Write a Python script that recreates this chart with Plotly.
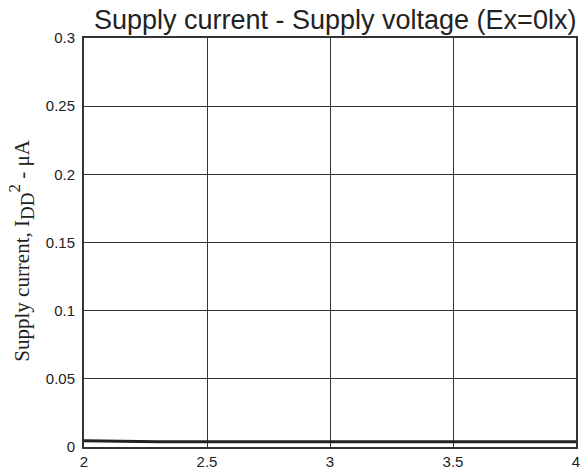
import plotly.graph_objects as go

voltage = [2.0, 2.1, 2.2, 2.3, 2.5, 3.0, 3.5, 4.0]
current = [0.0046, 0.0042, 0.0039, 0.0038, 0.0038, 0.0038, 0.0038, 0.0038]

x_ticks = [2, 2.5, 3, 3.5, 4]
x_labels = ["2", "2.5", "3", "3.5", "4"]
y_ticks = [0, 0.05, 0.1, 0.15, 0.2, 0.25, 0.3]
y_labels = ["0", "0.05", "0.1", "0.15", "0.2", "0.25", "0.3"]

title_text = "Supply current - Supply voltage (Ex=0lx)"
y_title = ("Supply current, I<sub><span style='font-size:19px'>DD</span></sub>"
           "<sup><span style='font-size:17px'>2</span></sup> - μA")

fig = go.Figure()
fig.add_trace(go.Scatter(x=voltage, y=current, mode="lines",
                         line=dict(color="#222222", width=3), showlegend=False))

fig.update_layout(
    width=588, height=475,
    margin=dict(l=84, r=12, t=38, b=28),
    paper_bgcolor="white", plot_bgcolor="white",
    title=dict(text=title_text,
               font=dict(family="Liberation Sans, Arial", size=27, color="#222222"),
               x=0.57, xanchor="center", y=0.958, yanchor="middle"),
    font=dict(family="Liberation Sans, Arial", size=15, color="#222222"),
    annotations=[dict(text=y_title, textangle=-90, showarrow=False,
                      xref="paper", yref="paper", x=-0.128, y=0.48,
                      xanchor="center", yanchor="middle",
                      font=dict(family="Liberation Serif, Times New Roman", size=21, color="#222222"))],
)
fig.update_xaxes(range=[2, 4], tickvals=x_ticks, ticktext=x_labels,
                 showgrid=True, gridcolor="#333333", gridwidth=1,
                 showline=True, linecolor="#333333", linewidth=2, mirror=True,
                 ticks="", zeroline=False, ticklabelstandoff=0, automargin=False,
                 tickfont=dict(size=15, color="#222222"))
fig.update_yaxes(range=[0, 0.3], tickvals=y_ticks, ticktext=y_labels,
                 showgrid=True, gridcolor="#333333", gridwidth=1,
                 showline=True, linecolor="#333333", linewidth=2, mirror=True,
                 ticks="", zeroline=False, ticklabelstandoff=4, automargin=False,
                 tickfont=dict(size=15, color="#222222"))

fig.write_html("out.html", config={"displayModeBar": False},
               post_script="document.body.style.margin='0';")
